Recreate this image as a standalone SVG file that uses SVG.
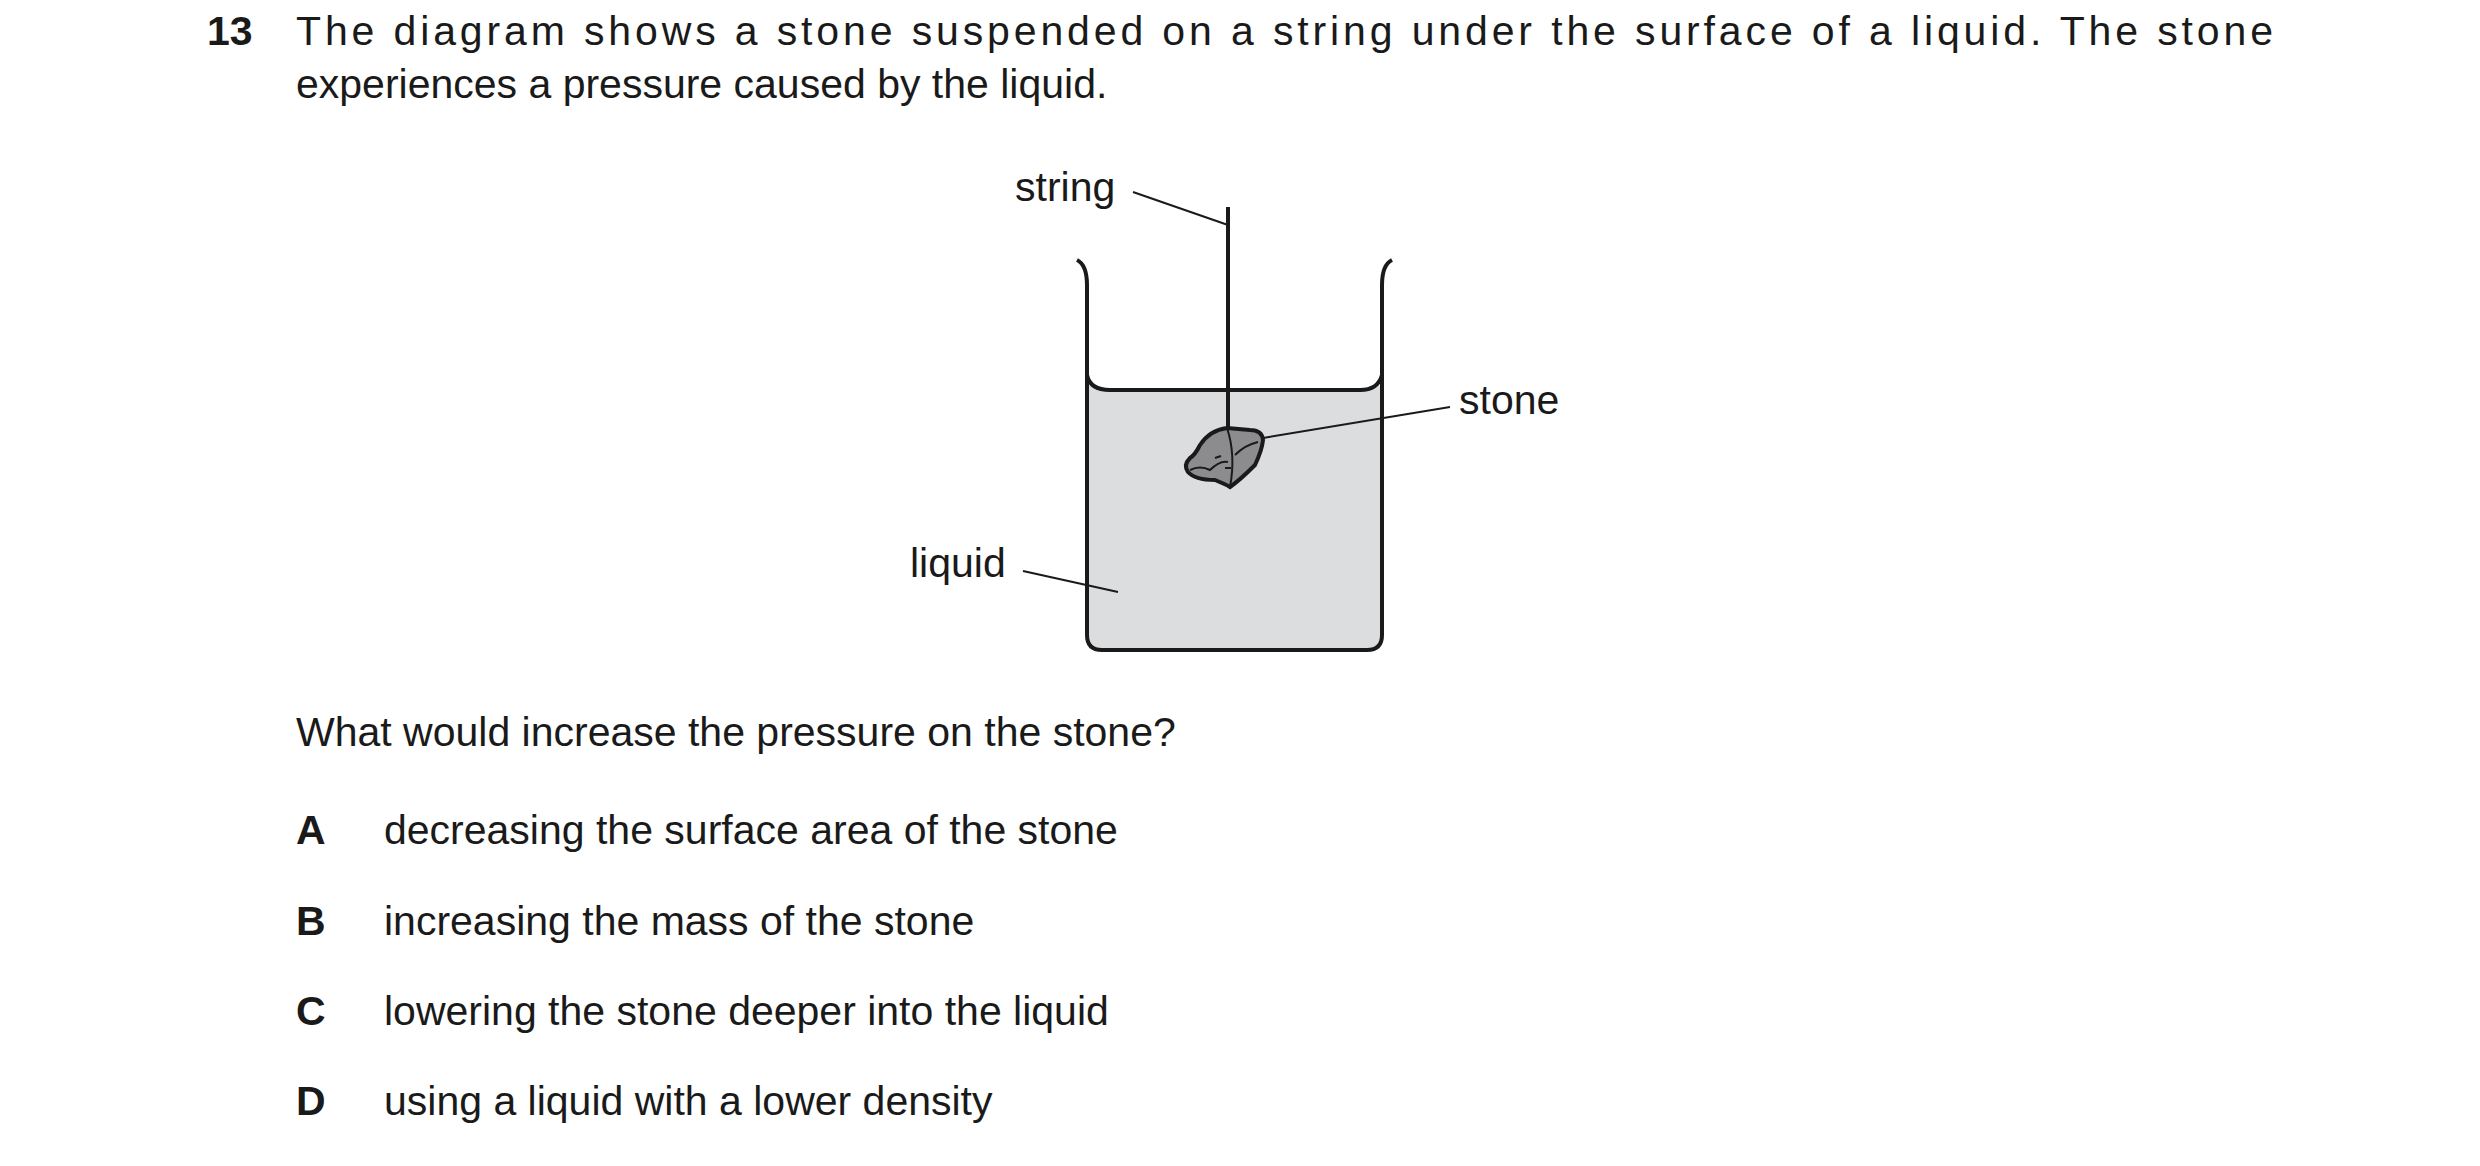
<svg xmlns="http://www.w3.org/2000/svg" width="2480" height="1166" viewBox="0 0 2480 1166">
<style>
text{font-family:"Liberation Sans",Arial,sans-serif;font-size:41px;fill:#1a1a1a}
.b{font-weight:bold}
.ln{stroke:#1a1a1a;stroke-width:2;fill:none}
.thick{stroke:#1a1a1a;stroke-width:4;fill:none}
</style>
<rect width="2480" height="1166" fill="#fff"/>
<text class="b" x="207" y="45">13</text>
<text x="296" y="45" textLength="1977" lengthAdjust="spacing">The diagram shows a stone suspended on a string under the surface of a liquid. The stone</text>
<text x="296" y="98">experiences a pressure caused by the liquid.</text>
<g id="beaker">
<path d="M1087,383 Q1092,390 1110,390 L1360,390 Q1378,390 1382,383 L1382,635 Q1382,650 1367,650 L1102,650 Q1087,650 1087,635 Z" fill="#dcdddf"/>
<path class="thick" d="M1077,260 Q1087,265 1087,285 L1087,635 Q1087,650 1102,650 L1367,650 Q1382,650 1382,635 L1382,285 Q1382,265 1392,260"/>
<path class="thick" d="M1087,375 Q1090,390 1110,390 L1360,390 Q1378,390 1382,375"/>
</g>
<g id="stone">
<line class="thick" x1="1228" y1="207" x2="1228" y2="430"/>
<path d="M1227,428 Q1210,430 1200,445 Q1195,455 1190,458 Q1183,465 1188,472 Q1195,480 1215,480 Q1225,484 1230,487 Q1240,480 1255,465 Q1262,450 1263,440 Q1262,430 1250,430 Z" fill="#8c8c8e" stroke="#1a1a1a" stroke-width="4"/>
<path class="ln" d="M1227,428 Q1236,455 1230,487 M1190,470 Q1200,465 1210,470 Q1220,460 1228,462 M1235,455 Q1245,445 1258,442 M1215,458 l6,-2 M1225,468 l6,0"/>
</g>
<g id="connectors">
<line class="ln" x1="1133" y1="192" x2="1228" y2="225"/>
<line class="ln" x1="1263" y1="438" x2="1450" y2="407"/>
<line class="ln" x1="1023" y1="571" x2="1118" y2="592"/>
</g>
<text x="1015" y="201">string</text>
<text x="1459" y="414">stone</text>
<text x="910" y="577">liquid</text>
<text x="296" y="746">What would increase the pressure on the stone?</text>
<text class="b" x="296" y="844">A</text><text x="384" y="844">decreasing the surface area of the stone</text>
<text class="b" x="296" y="935">B</text><text x="384" y="935">increasing the mass of the stone</text>
<text class="b" x="296" y="1025">C</text><text x="384" y="1025">lowering the stone deeper into the liquid</text>
<text class="b" x="296" y="1115">D</text><text x="384" y="1115">using a liquid with a lower density</text>
</svg>
